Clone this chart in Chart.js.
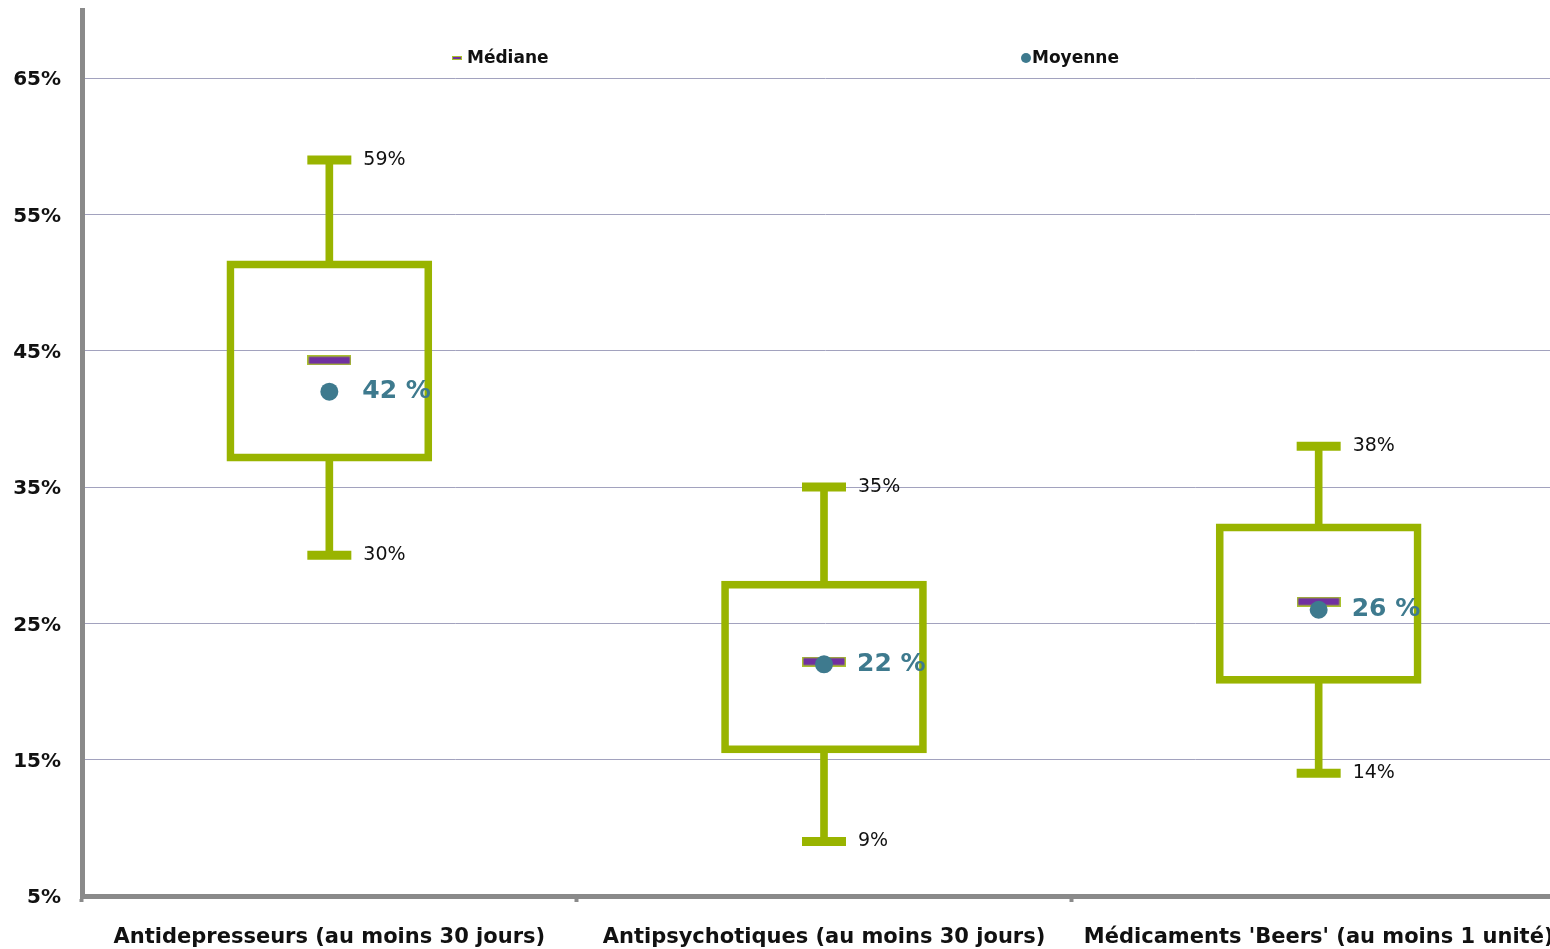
<!DOCTYPE html>
<html>
<head>
<meta charset="utf-8">
<script src="https://cdn.jsdelivr.net/npm/chart.js@4/dist/chart.umd.min.js"></script>
<style>
  html, body { margin: 0; padding: 0; background: #ffffff; overflow: hidden; width: 1550px; height: 949px; }
  #wrap { width: 1566px; height: 949px; }
  canvas { display: block; }
</style>
</head>
<body>
<div id="wrap"><canvas id="chart" width="1566" height="949"></canvas></div>
<script>
// Distribution of prescription rates per drug family
const categories = [
  "Antidepresseurs (au moins 30 jours)",
  "Antipsychotiques (au moins 30 jours)",
  "Médicaments 'Beers' (au moins 1 unité)"
];
const whiskerLow  = [30, 9, 14];
const boxLow      = [36.9, 15.5, 20.6];
const medians     = [44.3, 22.2, 26.6];
const boxHigh     = [51.6, 28.1, 32.3];
const whiskerHigh = [59, 35, 38];
const means       = [42, 22, 26];
const yTicks      = [5, 15, 25, 35, 45, 55, 65];
const seriesNames = ["Médiane", "Moyenne"];

const GREEN = '#99b400';
const PURPLE = '#7030a0';
const TEAL = '#3e7a8e';
const AXIS = '#8a8a8a';
const GRID = '#a2a2be';
const FONT = "'DejaVu Sans', Verdana, sans-serif";

// Median marker: purple bar with a light green outline
function medianMarker(w, h, edge) {
  const c = document.createElement('canvas');
  c.width = w; c.height = h;
  const g = c.getContext('2d');
  g.fillStyle = '#a9c12e';
  g.fillRect(0, 0, w, h);
  g.fillStyle = PURPLE;
  g.fillRect(edge, edge, w - 2 * edge, h - 2 * edge);
  return c;
}
const medianStyle = medianMarker(44, 10, 1.5);
const medianLegendStyle = medianMarker(10, 4, 1);

// Value labels beside whisker caps and mean points
const valueLabels = {
  id: 'valueLabels',
  afterDatasetsDraw(chart) {
    const ctx = chart.ctx;
    const x = chart.scales.x, y = chart.scales.y;
    ctx.save();
    ctx.textAlign = 'left';
    ctx.textBaseline = 'middle';
    categories.forEach((cat, i) => {
      const cx = x.getPixelForValue(i) + 34;
      ctx.font = "19px " + FONT;
      ctx.fillStyle = '#111111';
      ctx.fillText(Math.round(whiskerHigh[i]) + '%', cx, y.getPixelForValue(whiskerHigh[i]));
      ctx.fillText(Math.round(whiskerLow[i]) + '%', cx, y.getPixelForValue(whiskerLow[i]));
      ctx.font = "bold 25px " + FONT;
      ctx.fillStyle = TEAL;
      ctx.fillText(Math.round(means[i]) + ' %', cx - 1, y.getPixelForValue(means[i]));
    });
    ctx.restore();
  }
};

// Legend placed inside the plot area, items spread apart
const spreadLegend = {
  id: 'spreadLegend',
  afterDraw(chart, args, opts) {
    const ctx = chart.ctx;
    const ds = chart.data.datasets;
    const med = ds.find(d => d.label === seriesNames[0]);
    const mean = ds.find(d => d.label === seriesNames[1]);
    ctx.save();
    ctx.font = "bold 17px " + FONT;
    ctx.fillStyle = '#111111';
    ctx.textAlign = 'left';
    ctx.textBaseline = 'middle';
    const yy = opts.y;
    ctx.drawImage(medianLegendStyle, opts.x1, yy - 2);
    ctx.fillText(med.label, opts.x1 + 15, yy + 1);
    ctx.beginPath();
    ctx.fillStyle = mean.backgroundColor;
    ctx.arc(opts.x2 + 5, yy, 5, 0, Math.PI * 2);
    ctx.fill();
    ctx.fillStyle = '#111111';
    ctx.fillText(mean.label, opts.x2 + 11, yy + 1);
    ctx.restore();
  }
};

const pointSet = (label, data, extra) => Object.assign({
  type: 'line', label, data, showLine: false, clip: false
}, extra);

new Chart(document.getElementById('chart'), {
  type: 'bar',
  data: {
    labels: categories,
    datasets: [
      pointSet(seriesNames[1], means, {
        order: 0, pointStyle: 'circle', pointRadius: 9,
        backgroundColor: TEAL, borderColor: TEAL, pointBorderWidth: 0
      }),
      pointSet(seriesNames[0], medians, {
        order: 1, pointStyle: medianStyle, pointRadius: 10,
        backgroundColor: PURPLE, borderColor: GREEN
      }),
      pointSet('max', whiskerHigh, {
        order: 2, pointStyle: 'line', pointRadius: 22, pointBorderWidth: 9,
        borderColor: GREEN, backgroundColor: GREEN
      }),
      pointSet('min', whiskerLow, {
        order: 2, pointStyle: 'line', pointRadius: 22, pointBorderWidth: 9,
        borderColor: GREEN, backgroundColor: GREEN
      }),
      {
        label: 'upper', order: 3, grouped: false,
        data: categories.map((c, i) => [boxHigh[i], whiskerHigh[i]]),
        backgroundColor: GREEN, borderWidth: 0, barThickness: 7
      },
      {
        label: 'lower', order: 3, grouped: false,
        data: categories.map((c, i) => [whiskerLow[i], boxLow[i]]),
        backgroundColor: GREEN, borderWidth: 0, barThickness: 7
      },
      {
        label: 'box', order: 4, grouped: false,
        data: categories.map((c, i) => [boxLow[i], boxHigh[i]]),
        backgroundColor: 'rgba(255,255,255,0)', borderColor: GREEN,
        borderWidth: 7, borderSkipped: false, barThickness: 205
      }
    ]
  },
  options: {
    responsive: false,
    animation: false,
    events: [],
    devicePixelRatio: 1,
    layout: { autoPadding: false, padding: { top: 10, right: 0, bottom: 0, left: 0 } },
    plugins: {
      legend: { display: false },
      tooltip: { enabled: false },
      spreadLegend: { x1: 452, x2: 1021, y: 58 }
    },
    scales: {
      x: {
        type: 'category',
        offset: true,
        grid: { drawOnChartArea: false, drawTicks: true, tickLength: 6, tickWidth: 4, tickColor: AXIS, offset: true },
        border: { display: true, color: AXIS, width: 5 },
        ticks: {
          color: '#111111', font: { family: FONT, size: 21, weight: 'bold' },
          maxRotation: 0, minRotation: 0, autoSkip: false, padding: 23
        },
        afterFit(scale) {
          scale.height = 53;
          scale.paddingLeft = 0; scale.paddingRight = 0;
        }
      },
      y: {
        min: 5, max: 70,
        afterBuildTicks(scale) { scale.ticks = yTicks.map(v => ({ value: v })); },
        grid: { color: GRID, lineWidth: 1, drawTicks: false },
        border: { display: true, color: AXIS, width: 5 },
        ticks: {
          color: '#111111', font: { family: FONT, size: 20, weight: 'bold' },
          padding: 21, labelOffset: 2,
          callback: v => v + '%'
        },
        afterFit(scale) {
          scale.width = 82;
          scale.paddingTop = 0; scale.paddingBottom = 0;
        }
      }
    }
  },
  plugins: [valueLabels, spreadLegend]
});
</script>
</body>
</html>
